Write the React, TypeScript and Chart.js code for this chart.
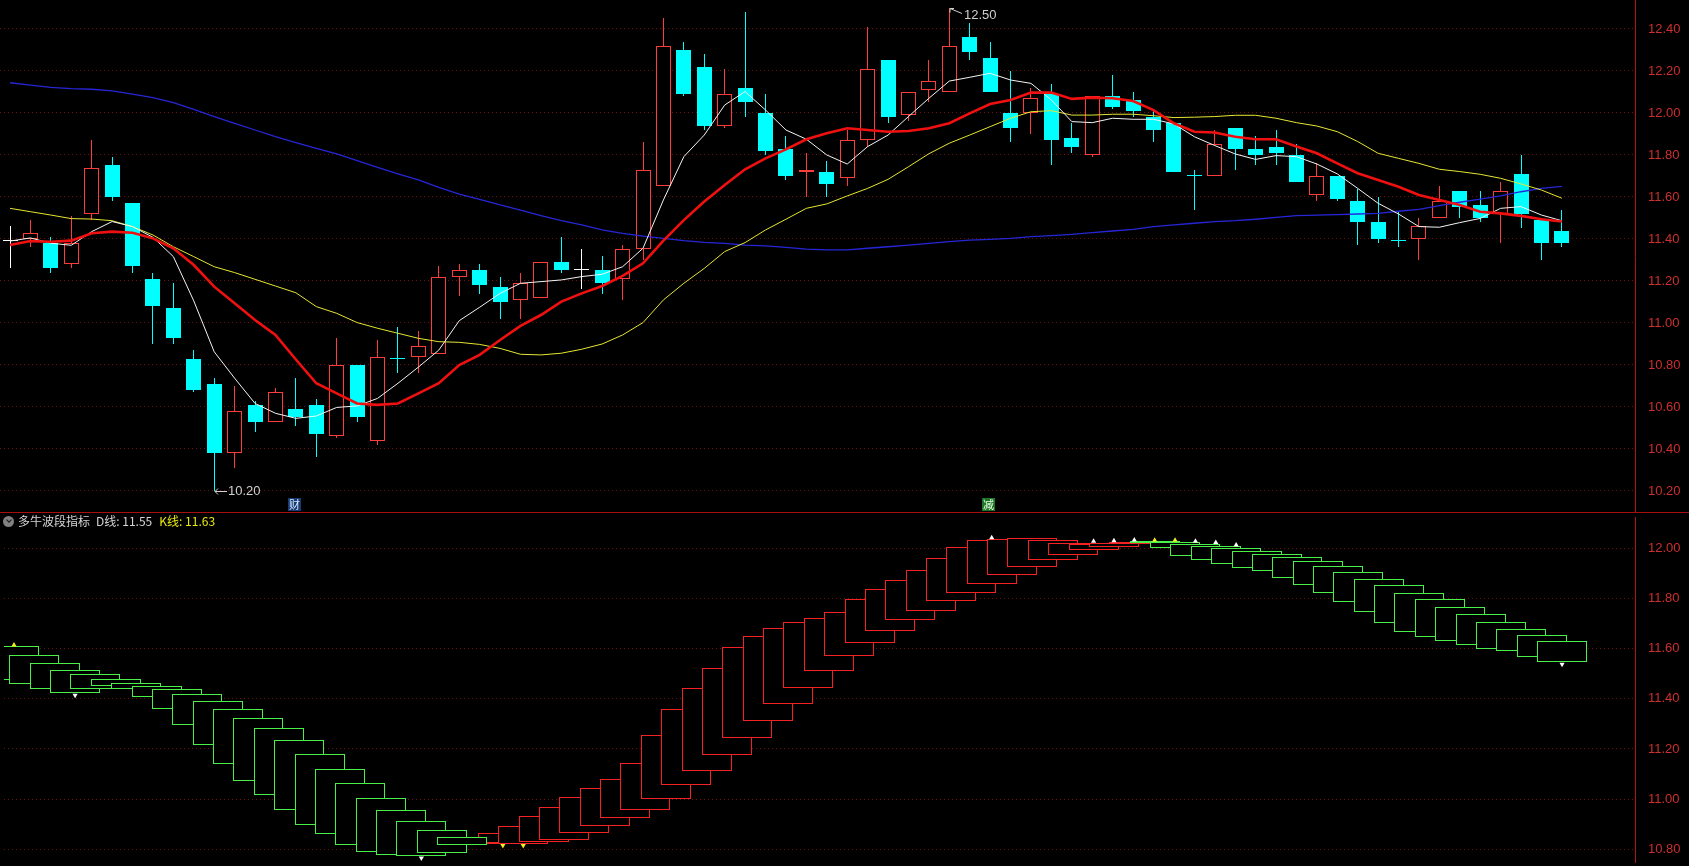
import React, { useEffect, useRef } from 'react';
import { Chart, registerables } from 'chart.js';

Chart.register(...registerables);

// ---------- data ----------
const opens = [
  11.39, 11.40, 11.38, 11.28, 11.52, 11.75, 11.57, 11.21, 11.07, 10.83,
  10.71, 10.38, 10.61, 10.53, 10.59, 10.61, 10.46, 10.80, 10.44, 10.83,
  10.84, 10.85, 11.22, 11.25, 11.17, 11.11, 11.12, 11.29, 11.25, 11.25,
  11.21, 11.35, 11.65, 12.30, 12.22, 11.94, 12.12, 12.00, 11.83, 11.72,
  11.72, 11.69, 11.87, 12.25, 11.99, 12.11, 12.10, 12.36, 12.26, 12.00,
  12.00, 12.09, 11.88, 11.80, 12.08, 12.06, 11.98, 11.95, 11.70, 11.70,
  11.93, 11.83, 11.84, 11.80, 11.61, 11.70, 11.58, 11.48, 11.39, 11.40,
  11.50, 11.63, 11.56, 11.52, 11.71, 11.49, 11.44,
];
const highs = [
  11.46, 11.49, 11.41, 11.51, 11.87, 11.79, 11.57, 11.24, 11.19, 10.87,
  10.74, 10.70, 10.63, 10.69, 10.74, 10.64, 10.93, 10.80, 10.92, 10.98,
  10.96, 11.27, 11.28, 11.28, 11.22, 11.24, 11.29, 11.41, 11.35, 11.32,
  11.37, 11.86, 12.45, 12.34, 12.28, 12.21, 12.48, 12.09, 11.89, 11.81,
  11.77, 11.92, 12.41, 12.25, 12.10, 12.25, 12.50, 12.43, 12.34, 12.20,
  12.12, 12.14, 11.95, 12.08, 12.18, 12.10, 12.01, 11.95, 11.73, 11.92,
  11.93, 11.89, 11.92, 11.85, 11.76, 11.70, 11.64, 11.60, 11.53, 11.50,
  11.65, 11.63, 11.63, 11.67, 11.80, 11.50, 11.54,
];
const lows = [
  11.26, 11.36, 11.24, 11.26, 11.49, 11.58, 11.24, 10.90, 10.90, 10.67,
  10.20, 10.31, 10.48, 10.53, 10.51, 10.36, 10.45, 10.53, 10.42, 10.76,
  10.76, 10.85, 11.13, 11.14, 11.02, 11.02, 11.12, 11.24, 11.16, 11.14,
  11.11, 11.30, 11.65, 12.08, 11.92, 11.93, 11.98, 11.80, 11.68, 11.60,
  11.60, 11.65, 11.84, 11.95, 11.96, 12.05, 12.10, 12.25, 12.10, 11.86,
  11.90, 11.75, 11.81, 11.79, 12.02, 11.98, 11.86, 11.72, 11.54, 11.70,
  11.73, 11.75, 11.75, 11.67, 11.58, 11.58, 11.37, 11.38, 11.36, 11.30,
  11.50, 11.50, 11.48, 11.38, 11.45, 11.30, 11.36,
];
const closes = [
  11.39, 11.43, 11.26, 11.38, 11.74, 11.60, 11.27, 11.08, 10.93, 10.68,
  10.38, 10.58, 10.53, 10.67, 10.55, 10.47, 10.80, 10.55, 10.84, 10.83,
  10.89, 11.22, 11.25, 11.18, 11.10, 11.19, 11.29, 11.25, 11.25, 11.19,
  11.35, 11.73, 12.32, 12.09, 11.94, 12.09, 12.05, 11.82, 11.70, 11.73,
  11.66, 11.87, 12.21, 11.98, 12.10, 12.15, 12.32, 12.29, 12.10, 11.93,
  12.07, 11.87, 11.84, 12.08, 12.03, 12.01, 11.92, 11.72, 11.70, 11.85,
  11.83, 11.80, 11.81, 11.67, 11.70, 11.59, 11.48, 11.40, 11.39, 11.46,
  11.58, 11.55, 11.50, 11.63, 11.52, 11.38, 11.38,
];
const ma5 = [
  11.390, 11.405, 11.380, 11.370, 11.435, 11.483, 11.459, 11.408, 11.316, 11.105,
  10.863, 10.737, 10.617, 10.570, 10.546, 10.557, 10.598, 10.605, 10.641, 10.713,
  10.790, 10.871, 11.011, 11.075, 11.141, 11.189, 11.197, 11.205, 11.221, 11.232,
  11.268, 11.356, 11.586, 11.792, 11.895, 12.038, 12.102, 12.014, 11.919, 11.875,
  11.800, 11.757, 11.840, 11.895, 11.983, 12.070, 12.152, 12.170, 12.189, 12.157,
  12.141, 12.062, 11.959, 11.954, 11.975, 11.970, 11.970, 11.948, 11.887, 11.845,
  11.805, 11.779, 11.797, 11.792, 11.757, 11.710, 11.641, 11.570, 11.519, 11.459,
  11.456, 11.478, 11.498, 11.546, 11.554, 11.514, 11.487,
];
const ma10 = [
  11.371, 11.390, 11.387, 11.392, 11.427, 11.435, 11.430, 11.403, 11.356, 11.276,
  11.173, 11.094, 11.014, 10.943, 10.826, 10.713, 10.665, 10.617, 10.610, 10.617,
  10.665, 10.713, 10.800, 10.848, 10.919, 10.986, 11.038, 11.102, 11.141, 11.176,
  11.224, 11.284, 11.392, 11.490, 11.578, 11.657, 11.732, 11.784, 11.827, 11.875,
  11.903, 11.927, 11.919, 11.911, 11.914, 11.927, 11.951, 11.998, 12.043, 12.062,
  12.097, 12.097, 12.067, 12.073, 12.070, 12.057, 12.014, 11.951, 11.911, 11.907,
  11.887, 11.875, 11.875, 11.840, 11.808, 11.760, 11.713, 11.681, 11.649, 11.610,
  11.586, 11.562, 11.530, 11.522, 11.510, 11.494, 11.483,
];
const ma20 = [
  11.546, 11.530, 11.514, 11.497, 11.495, 11.487, 11.459, 11.419, 11.363, 11.316,
  11.268, 11.240, 11.208, 11.176, 11.144, 11.078, 11.046, 11.002, 10.975, 10.951,
  10.927, 10.911, 10.908, 10.898, 10.879, 10.851, 10.848, 10.856, 10.875, 10.900,
  10.943, 11.002, 11.110, 11.189, 11.260, 11.340, 11.383, 11.443, 11.494, 11.546,
  11.567, 11.605, 11.641, 11.684, 11.744, 11.806, 11.856, 11.895, 11.935, 11.975,
  12.006, 12.011, 11.990, 11.990, 11.994, 11.994, 11.987, 11.978, 11.980, 11.983,
  11.989, 11.989, 11.975, 11.954, 11.938, 11.911, 11.864, 11.808, 11.784, 11.760,
  11.732, 11.721, 11.708, 11.689, 11.662, 11.633, 11.594,
];
const ma60 = [
  12.144, 12.133, 12.122, 12.116, 12.113, 12.105, 12.090, 12.073, 12.049, 12.017,
  11.983, 11.951, 11.919, 11.887, 11.859, 11.832, 11.805, 11.773, 11.741, 11.710,
  11.681, 11.646, 11.614, 11.589, 11.562, 11.538, 11.511, 11.487, 11.467, 11.443,
  11.427, 11.414, 11.403, 11.392, 11.384, 11.379, 11.371, 11.367, 11.360, 11.352,
  11.348, 11.348, 11.356, 11.363, 11.371, 11.379, 11.387, 11.395, 11.398, 11.403,
  11.411, 11.416, 11.422, 11.430, 11.438, 11.446, 11.459, 11.467, 11.475, 11.483,
  11.487, 11.494, 11.503, 11.511, 11.514, 11.516, 11.519, 11.522, 11.532, 11.541,
  11.559, 11.575, 11.590, 11.605, 11.625, 11.641, 11.651,
];
// 多牛波段指标
const dLine = [
  11.473, 11.461, 11.438, 11.422, 11.440, 11.453, 11.440, 11.406, 11.360, 11.297,
  11.216, 11.142, 11.071, 11.017, 10.958, 10.896, 10.861, 10.818, 10.791, 10.779,
  10.773, 10.787, 10.817, 10.835, 10.865, 10.892, 10.933, 10.970, 11.009, 11.044,
  11.081, 11.145, 11.255, 11.360, 11.445, 11.523, 11.606, 11.652, 11.683, 11.706,
  11.722, 11.745, 11.796, 11.839, 11.874, 11.913, 11.960, 12.006, 12.034, 12.038,
  12.042, 12.034, 12.022, 12.018, 12.022, 12.026, 12.022, 12.003, 11.970, 11.955,
  11.939, 11.923, 11.908, 11.881, 11.855, 11.822, 11.784, 11.745, 11.701, 11.668,
  11.648, 11.632, 11.613, 11.597, 11.590, 11.566, 11.546,
];
const kLine = [
  11.609, 11.574, 11.543, 11.516, 11.497, 11.479, 11.465, 11.453, 11.438, 11.418,
  11.391, 11.360, 11.325, 11.282, 11.236, 11.181, 11.122, 11.064, 11.005, 10.955,
  10.912, 10.877, 10.850, 10.822, 10.825, 10.822, 10.829, 10.838, 10.865, 10.892,
  10.923, 10.957, 11.001, 11.056, 11.113, 11.175, 11.243, 11.313, 11.379, 11.445,
  11.510, 11.570, 11.623, 11.671, 11.713, 11.752, 11.788, 11.823, 11.858, 11.894,
  11.926, 11.952, 11.975, 11.995, 12.007, 12.018, 12.027, 12.026, 12.018, 12.010,
  12.003, 11.991, 11.979, 11.964, 11.948, 11.929, 11.905, 11.878, 11.855, 11.823,
  11.796, 11.765, 11.738, 11.706, 11.679, 11.656, 11.632,
];
const yellowMarkIdx = [0, 24, 25, 56, 57];
const yellowMarkVal = [11.614, 10.815, 10.815, 12.032, 12.032];
const whiteMarkIdx = [3, 20, 48, 53, 54, 55, 58, 59, 60, 76];
const whiteMarkVal = [11.414, 10.765, 12.042, 12.028, 12.030, 12.033, 12.028, 12.023, 12.013, 11.538];

const priceTicks = [10.2, 10.4, 10.6, 10.8, 11.0, 11.2, 11.4, 11.6, 11.8, 12.0, 12.2, 12.4];
const indTicks = [10.8, 11.0, 11.2, 11.4, 11.6, 11.8, 12.0];

const lowMarkIdx = 10;
const lowMarkVal = 10.2;
const highMarkIdx = 46;
const highMarkVal = 12.5;

const eventIdx = [14, 48];
const eventText = ['财', '减'];

const indicatorName = '多牛波段指标';

// ---------- styles ----------
const UP = '#ff3c3c';
const DOWN = '#00ffff';
const FLAT = '#ffffff';
const GRID = '#6a1212';
const AXIS = '#b01414';
const LABEL = '#cc2f2f';
const BOX_UP = '#f42222';
const BOX_DOWN = '#48f048';
const X_MIN = -0.49;
const X_MAX = 79.58;

function candleColor(i: number): string {
  const o = opens[i];
  const c = closes[i];
  if (c > o + 1e-9) return UP;
  if (c < o - 1e-9) return DOWN;
  if (i === 0) return FLAT;
  const p = closes[i - 1];
  if (c < p - 1e-9) return DOWN;
  if (c > p + 1e-9) return UP;
  return FLAT;
}

// snap bar rectangles (computed by the scales) onto whole pixels so 1px borders stay crisp
const snapBars = {
  id: 'snapBars',
  afterDatasetsUpdate(chart: any) {
    chart.getSortedVisibleDatasetMetas().forEach((meta: any) => {
      if (meta.type !== 'bar') return;
      meta.data.forEach((el: any) => {
        const w = Math.max(1, Math.round(el.width));
        const left = Math.round(el.x - el.width / 2);
        el.width = w;
        el.x = left + w / 2;
        const y = Math.round(el.y);
        let b = Math.round(el.base);
        if (Math.abs(b - y) < 1) b = y + 1;
        el.y = y;
        el.base = b;
      });
    });
  },
};

function xAxis(): any {
  return { type: 'linear', min: X_MIN, max: X_MAX, offset: false, display: false, grid: { display: false } };
}

function yAxis(min: number, max: number, ticks: number[]): any {
  return {
    type: 'linear',
    position: 'right',
    min,
    max,
    afterBuildTicks: (s: any) => {
      s.ticks = ticks.map((v) => ({ value: v }));
    },
    afterFit: (s: any) => {
      s.width = 54;
      s.paddingTop = 0;
      s.paddingBottom = 0;
    },
    grid: { color: GRID, lineWidth: 1, drawTicks: false },
    border: { display: true, color: AXIS, width: 1, dash: [1, 3] },
    ticks: {
      color: LABEL,
      padding: 13,
      font: { family: '"Liberation Sans", Arial, sans-serif', size: 13 },
      callback: (v: any) => Number(v).toFixed(2),
    },
  };
}

const topAnnotations = {
  id: 'topAnnotations',
  afterDatasetsDraw(chart: any) {
    const { ctx, scales } = chart;
    const x = scales.x;
    const y = scales.y;
    ctx.save();
    ctx.strokeStyle = '#d0d0d0';
    ctx.fillStyle = '#d0d0d0';
    ctx.lineWidth = 1;
    ctx.font = '13px "Liberation Sans", Arial, sans-serif';
    ctx.textBaseline = 'middle';
    ctx.textAlign = 'left';
    // lowest price
    const lx = Math.round(x.getPixelForValue(lowMarkIdx));
    const ly = Math.round(y.getPixelForValue(lowMarkVal)) + 0.5;
    ctx.beginPath();
    ctx.moveTo(lx + 1, ly);
    ctx.lineTo(lx + 13, ly);
    ctx.moveTo(lx + 1, ly);
    ctx.lineTo(lx + 4, ly - 3);
    ctx.moveTo(lx + 1, ly);
    ctx.lineTo(lx + 4, ly + 3);
    ctx.stroke();
    ctx.fillText(lowMarkVal.toFixed(2), lx + 14, ly);
    // highest price
    const hx = Math.round(x.getPixelForValue(highMarkIdx));
    const hy = Math.round(y.getPixelForValue(highMarkVal)) + 0.5;
    ctx.beginPath();
    ctx.moveTo(hx + 1, hy);
    ctx.lineTo(hx + 13, hy + 5);
    ctx.moveTo(hx + 1, hy);
    ctx.lineTo(hx + 1, hy + 4);
    ctx.moveTo(hx + 1, hy);
    ctx.lineTo(hx + 5, hy);
    ctx.stroke();
    ctx.fillText(highMarkVal.toFixed(2), hx + 15, hy + 7);
    // event tags
    const bgs = ['#173a72', '#1d7424'];
    const fgs = ['#d6e8ff', '#e4ffe4'];
    ctx.font = '11px "Noto Sans CJK SC", sans-serif';
    ctx.textAlign = 'center';
    const bottom = chart.chartArea.bottom;
    eventIdx.forEach((idx, k) => {
      const cx = Math.round(x.getPixelForValue(idx)) - 2;
      ctx.fillStyle = bgs[k % bgs.length];
      ctx.fillRect(cx - 6, bottom - 14, 13, 13);
      ctx.fillStyle = fgs[k % fgs.length];
      ctx.fillText(eventText[k], cx + 0.5, bottom - 7.5);
    });
    ctx.restore();
  },
};

function topConfig(): any {
  const n = opens.length;
  const idx = Array.from({ length: n }, (_, i) => i);
  const colors = idx.map(candleColor);
  const line = (vals: number[], color: string, width: number, order: number) => ({
    type: 'line',
    data: vals.map((v, i) => ({ x: i, y: v })),
    borderColor: color,
    borderWidth: width,
    pointRadius: 0,
    tension: 0,
    order,
  });
  return {
    type: 'bar',
    data: {
      datasets: [
        line(ma10, '#f01010', 2.6, 0),
        line(ma5, '#f4f4f4', 1, 1),
        line(ma20, '#e6e632', 1, 2),
        line(ma60, '#2626d8', 1.3, 3),
        {
          type: 'bar',
          data: idx.map((i) => ({ x: i, y: [opens[i], closes[i]] })),
          backgroundColor: colors.map((c) => (c === UP ? '#000000' : c)),
          borderColor: colors,
          borderWidth: 1,
          borderSkipped: false,
          inflateAmount: 0,
          barThickness: 15,
          minBarLength: 1,
          grouped: false,
          order: 4,
        },
        {
          type: 'bar',
          data: idx.map((i) => ({ x: i, y: [lows[i], highs[i]] })),
          backgroundColor: colors,
          borderWidth: 0,
          inflateAmount: 0,
          barThickness: 1,
          grouped: false,
          order: 5,
        },
      ],
    },
    options: {
      responsive: false,
      maintainAspectRatio: false,
      animation: false,
      devicePixelRatio: 1,
      events: [],
      layout: { padding: 0 },
      plugins: { legend: { display: false }, tooltip: { enabled: false } },
      scales: { x: xAxis(), y: yAxis(10.1, 12.538, priceTicks) },
    },
    plugins: [snapBars, topAnnotations],
  };
}

function bottomConfig(): any {
  const n = dLine.length;
  const idx = Array.from({ length: n }, (_, i) => i);
  const upIdx = idx.filter((i) => dLine[i] >= kLine[i]);
  const downIdx = idx.filter((i) => dLine[i] < kLine[i]);
  const boxLow = (i: number) => Math.min(dLine[i], kLine[i]);
  const marks = (ids: number[], vals: number[], color: string) => ({
    type: 'line',
    showLine: false,
    data: ids.map((i, k) => ({ x: i, y: vals[k] })),
    pointStyle: 'triangle',
    pointRadius: 3,
    pointRotation: ids.map((i, k) => (vals[k] < boxLow(i) ? 180 : 0)),
    pointBackgroundColor: color,
    pointBorderColor: color,
    pointBorderWidth: 0,
    order: 0,
  });
  const boxes = (ids: number[], color: string, order: number) => ({
    type: 'bar',
    data: ids.map((i) => ({ x: i, y: [dLine[i], kLine[i]] })),
    backgroundColor: '#000000',
    borderColor: color,
    borderWidth: 1,
    borderSkipped: false,
    inflateAmount: 0,
    barThickness: 50,
    minBarLength: 2,
    grouped: false,
    order,
  });
  return {
    type: 'bar',
    data: {
      datasets: [
        marks(yellowMarkIdx, yellowMarkVal, '#f0f020'),
        marks(whiteMarkIdx, whiteMarkVal, '#ffffff'),
        boxes(downIdx, BOX_DOWN, 1),
        boxes(upIdx, BOX_UP, 2),
      ],
    },
    options: {
      responsive: false,
      maintainAspectRatio: false,
      animation: false,
      devicePixelRatio: 1,
      events: [],
      layout: { padding: 0 },
      plugins: { legend: { display: false }, tooltip: { enabled: false } },
      scales: { x: xAxis(), y: yAxis(10.7495, 12.1247, indTicks) },
    },
    plugins: [snapBars],
  };
}

export default function App() {
  const topRef = useRef<HTMLCanvasElement>(null);
  const botRef = useRef<HTMLCanvasElement>(null);

  useEffect(() => {
    document.body.style.margin = '0';
    document.body.style.background = '#000';
    const top = new Chart(topRef.current as HTMLCanvasElement, topConfig());
    const bot = new Chart(botRef.current as HTMLCanvasElement, bottomConfig());
    return () => {
      top.destroy();
      bot.destroy();
    };
  }, []);

  const lastD = dLine[dLine.length - 1].toFixed(2);
  const lastK = kLine[kLine.length - 1].toFixed(2);

  return (
    <div style={{ position: 'relative', width: 1689, height: 866, background: '#000', overflow: 'hidden' }}>
      <canvas
        ref={topRef}
        width={1689}
        height={512}
        style={{ position: 'absolute', left: 0, top: 0, width: 1689, height: 512 }}
      />
      <div style={{ position: 'absolute', left: 0, top: 512, width: 1689, height: 1, background: '#a81010' }} />
      <canvas
        ref={botRef}
        width={1689}
        height={353}
        style={{ position: 'absolute', left: 0, top: 513, width: 1689, height: 353 }}
      />
      <div
        style={{
          position: 'absolute',
          left: 3,
          top: 514,
          height: 14,
          display: 'flex',
          alignItems: 'center',
          whiteSpace: 'nowrap',
          font: '12px "Noto Sans CJK SC", "Noto Sans", sans-serif',
          color: '#d4d4d4',
          lineHeight: '14px',
        }}
      >
        <span
          style={{
            width: 11,
            height: 11,
            borderRadius: '50%',
            background: '#808080',
            display: 'inline-flex',
            alignItems: 'center',
            justifyContent: 'center',
            marginRight: 4,
          }}
        >
          <span
            style={{
              width: 3,
              height: 3,
              borderRight: '1.5px solid #1a1a1a',
              borderBottom: '1.5px solid #1a1a1a',
              transform: 'translateY(-1px) rotate(45deg)',
            }}
          />
        </span>
        <span>{indicatorName}</span>
        <span style={{ marginLeft: 6 }}>D线: {lastD}</span>
        <span style={{ marginLeft: 7, color: '#e8e810' }}>K线: {lastK}</span>
      </div>
    </div>
  );
}
